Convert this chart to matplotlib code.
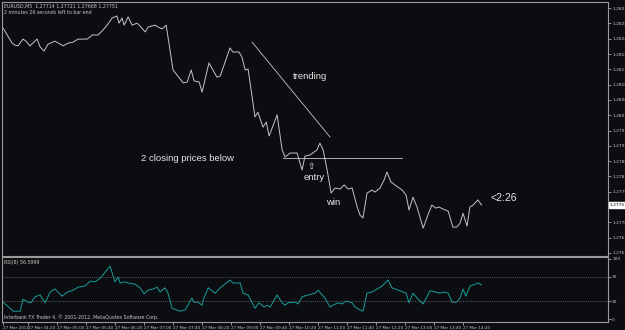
import matplotlib
matplotlib.use("Agg")
import matplotlib.pyplot as plt
import matplotlib.transforms as mtransforms

# EURUSD M5, bar 0 = 27 Mar 03:45
price_bar = [0, 2.5, 3.3, 4.1, 5.5, 6.3, 7.4, 9.4, 10.2, 11.3, 12.4, 14.3, 16.6, 17.9,
             19.3, 20.7, 23.2, 24.6, 26.2, 27.6, 28.7, 30.1, 31.4, 32.0, 32.8, 33.4, 34.5,
             35.6, 37.0, 37.8, 39.2, 40.0, 41.9, 42.8, 43.9, 45.0, 45.5, 46.9, 49.7, 50.8,
             51.9, 52.7, 54.1, 54.9, 56.8, 59.0, 59.9, 62.6, 63.4, 65.1, 65.9, 66.8, 67.6,
             69.5, 70.3, 71.7, 72.6, 73.4, 75.6, 77.0, 77.8, 79.2, 80.0, 81.1, 82.5, 83.3,
             84.7, 86.6, 87.4, 88.3, 89.4, 90.5, 91.6, 93.0, 94.1, 95.2, 96.3, 97.7, 98.5,
             99.3, 100.4, 101.8, 102.6, 104.0, 105.1, 105.9, 107.0, 108.1, 110.1, 111.2,
             112.0, 113.1, 114.2, 115.9, 117.2, 118.3, 119.4, 120.3, 121.4, 122.8, 124.1,
             125.2, 126.1, 126.9, 128.0, 128.8, 129.7, 131.0, 132.0]
price_val = [1.28271, 1.28227, 1.28221, 1.28219, 1.28239, 1.28233, 1.28219, 1.28239, 1.28216,
             1.28204, 1.28224, 1.28233, 1.28219, 1.28227, 1.28230, 1.28239, 1.28239, 1.28251,
             1.28251, 1.28266, 1.28280, 1.28301, 1.28307, 1.28286, 1.28301, 1.28280, 1.28304,
             1.28280, 1.28286, 1.28277, 1.28260, 1.28274, 1.28280, 1.28274, 1.28269, 1.28280,
             1.28245, 1.28148, 1.28110, 1.28113, 1.28148, 1.28116, 1.28113, 1.28083, 1.28169,
             1.28127, 1.28130, 1.28213, 1.28201, 1.28201, 1.28186, 1.28148, 1.28151, 1.28010,
             1.28024, 1.27980, 1.27995, 1.27954, 1.28016, 1.27913, 1.27892, 1.27904, 1.27904,
             1.27904, 1.27854, 1.27895, 1.27898, 1.27913, 1.27933, 1.27913, 1.27854, 1.27786,
             1.27801, 1.27798, 1.27810, 1.27798, 1.27801, 1.27745, 1.27721, 1.27713, 1.27786,
             1.27795, 1.27789, 1.27801, 1.27824, 1.27848, 1.27819, 1.27810, 1.27795, 1.27780,
             1.27736, 1.27774, 1.27745, 1.27683, 1.27721, 1.27751, 1.27742, 1.27745, 1.27739,
             1.27733, 1.27686, 1.27686, 1.27698, 1.27727, 1.27689, 1.27745, 1.27751, 1.27766,
             1.27751]

rsi_bar = [0, 1.9, 2.8, 4.7, 5.5, 6.9, 7.7, 8.8, 10.2, 11.6, 13.0, 14.3, 16.3, 17.7, 19.0,
           20.7, 22.6, 24.0, 25.4, 26.8, 29.5, 30.9, 31.7, 32.3, 33.7, 34.5, 36.4, 37.8, 38.9,
           40.0, 41.4, 42.5, 43.3, 44.7, 45.5, 46.6, 48.8, 50.2, 52.1, 52.7, 53.8, 54.9, 55.2,
           56.6, 58.5, 59.9, 62.6, 63.4, 65.4, 66.2, 67.6, 69.5, 70.6, 72.0, 72.8, 73.7, 75.6,
           77.0, 77.8, 78.6, 80.6, 81.4, 82.5, 84.1, 86.1, 86.9, 88.8, 90.2, 91.0, 92.4, 93.5,
           94.6, 96.3, 97.1, 97.9, 99.3, 100.4, 101.8, 103.2, 104.6, 106.2, 107.3, 109.5, 111.2,
           112.0, 113.1, 114.5, 115.9, 117.8, 119.2, 120.6, 121.4, 122.8, 123.9, 125.2, 126.1,
           126.9, 127.7, 128.8, 130.2, 131.0, 132.0]
rsi_val = [28, 18, 13, 13, 33, 28, 27, 37, 40, 27, 45, 50, 38, 45, 47, 53, 55, 63, 62, 68, 88,
           62, 70, 60, 62, 60, 58, 52, 42, 48, 50, 53, 45, 52, 43, 18, 13, 15, 35, 28, 28, 23,
           32, 52, 43, 52, 65, 60, 60, 43, 40, 18, 27, 20, 23, 20, 40, 27, 23, 27, 28, 25, 37,
           40, 43, 48, 35, 20, 23, 27, 25, 30, 27, 20, 17, 13, 43, 45, 50, 55, 65, 52, 47, 43,
           27, 43, 33, 25, 47, 45, 43, 45, 43, 28, 28, 35, 50, 38, 55, 58, 60, 56.6]

price_ticks = [1.28330, 1.28285, 1.28240, 1.28195, 1.28150, 1.28105, 1.28060, 1.28015,
               1.27970, 1.27925, 1.27880, 1.27835, 1.27790, 1.27745, 1.27700, 1.27655, 1.27610]
time_labels = ["04:20", "05:00", "05:40", "06:20", "07:00", "07:40", "08:20", "09:00",
               "09:40", "10:20", "11:00", "11:40", "12:20", "13:00", "13:40", "14:20"]
last_price = 1.27751

bg = "#0b0d10"
fg = "#c8c8c8"
frame = "#9a9a9a"

fig = plt.figure(figsize=(6.25, 3.3), dpi=100, facecolor=bg)
ax = fig.add_axes([0.0032, 0.2242, 0.9696, 0.7697], facecolor=bg)
ax2 = fig.add_axes([0.0032, 0.0242, 0.9696, 0.1970], facecolor=bg, sharex=ax)

for a in (ax, ax2):
    for s in a.spines.values():
        s.set_color(frame)
        s.set_linewidth(0.8)
    a.yaxis.tick_right()
    a.tick_params(colors=fg, labelsize=3.2, length=2, width=0.5, pad=1)

# price panel
ax.plot(price_bar, price_val, color="#c4c4c4", lw=0.7)
ax.set_xlim(-0.3, 166.9)
ax.set_ylim(1.27601, 1.28348)
ax.set_yticks(price_ticks)
ax.set_yticklabels(["%.5f" % v for v in price_ticks])
ax.tick_params(axis="x", bottom=False, labelbottom=False)

ax.plot([68.7, 90.2], [1.28230, 1.27951], color="#c8c8c8", lw=0.6)
ax.plot([77.2, 110.1], [1.27889, 1.27889], color="#c8c8c8", lw=0.6)

txt = dict(color="#e6e6e6", family="Liberation Sans", ha="center", va="center")
ax.text(84.7, 1.28130, "trending", fontsize=6.8, **txt)
ax.text(51.0, 1.27889, "2 closing prices below", fontsize=6.8, **txt)
ax.text(85.0, 1.27863, "\u21e7", fontsize=6.5, color="#e6e6e6", family="DejaVu Sans",
        ha="center", va="center")
ax.text(85.8, 1.27833, "entry", fontsize=6.8, **txt)
ax.text(91.0, 1.27757, "win", fontsize=6.8, **txt)
ax.text(134.5, 1.27771, "<2:26", fontsize=7.5, color="#e6e6e6", family="Liberation Sans",
        ha="left", va="center")

ax.text(0.004, 0.992, "EURUSD,M5  1.27714 1.27721 1.27668 1.27751", transform=ax.transAxes,
        fontsize=3.4, color=fg, ha="left", va="top")
ax.text(0.004, 0.968, "2 minutes 26 seconds left to bar end", transform=ax.transAxes,
        fontsize=3.4, color=fg, ha="left", va="top")

tr = mtransforms.blended_transform_factory(ax.transAxes, ax.transData)
ax.text(1.002, last_price, "%.5f" % last_price, transform=tr, fontsize=3.2, color="black",
        ha="left", va="center",
        bbox=dict(boxstyle="square,pad=0.15", fc="white", ec="white"))

# RSI panel
ax2.plot(rsi_bar, rsi_val, color="#1a9e9b", lw=0.7)
ax2.set_ylim(-5, 103.3)
ax2.set_yticks([0, 30, 70, 100])
for lvl in (30, 70):
    ax2.axhline(lvl, color="#6e6e6e", lw=0.5, ls=(0, (1.5, 1.5)))
ax2.text(0.004, 0.95, "RSI(8) 56.5999", transform=ax2.transAxes, fontsize=3.4, color=fg,
         ha="left", va="top")
ax2.text(0.004, 0.03, "Interbank FX Trader 4, \u00a9 2001-2012, MetaQuotes Software Corp.",
         transform=ax2.transAxes, fontsize=3.4, color=fg, ha="left", va="bottom")

xt = [0] + [7 + 8 * k for k in range(len(time_labels))]
xl = ["27 Mar 2013"] + ["27 Mar " + t for t in time_labels]
ax2.set_xticks(xt)
ax2.set_xticklabels(xl, ha="left")
ax2.tick_params(axis="x", length=2, pad=1, labelsize=3.0)

fig.savefig("out.png", dpi=100, facecolor=bg)
